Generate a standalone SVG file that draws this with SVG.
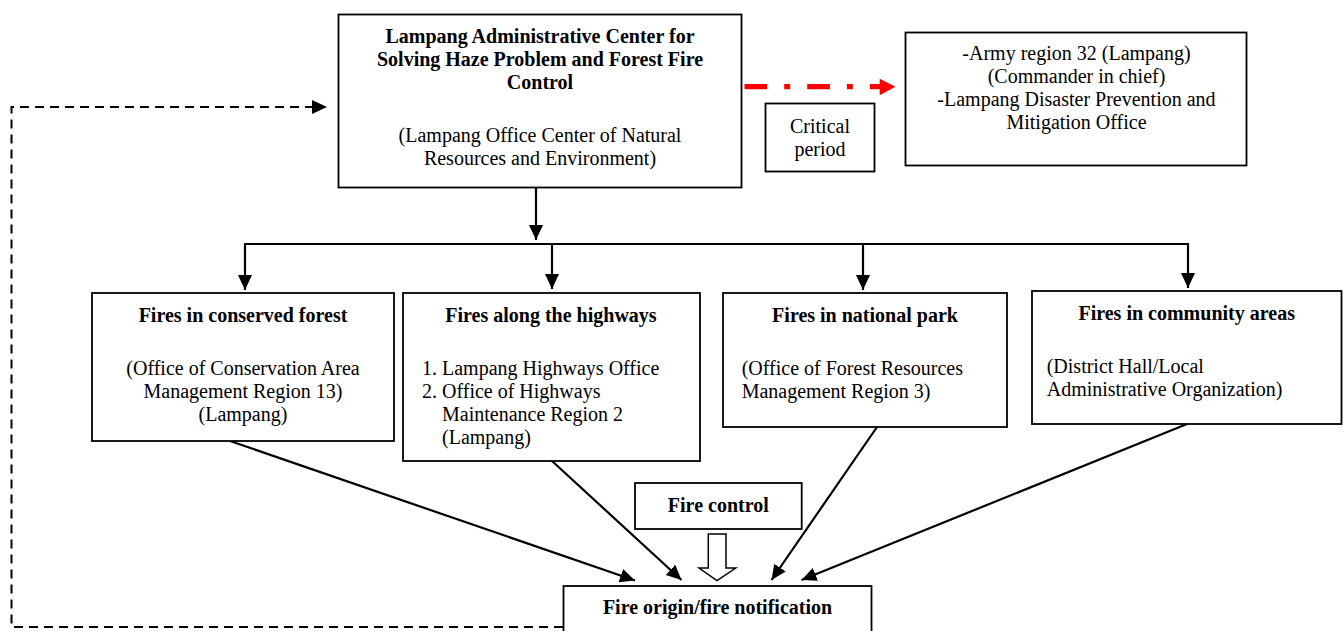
<svg xmlns="http://www.w3.org/2000/svg" width="1343" height="631" viewBox="0 0 1343 631">
<defs>
<marker id="ah" markerUnits="userSpaceOnUse" markerWidth="16" markerHeight="15" refX="15" refY="7" orient="auto">
<path d="M0,0 L15,7 L0,14 z" fill="#000"/>
</marker>
<style>
.box{fill:#fff;stroke:#000;stroke-width:1.8}
.t{font-family:"Liberation Serif","Times New Roman",serif;font-size:20px;fill:#000}
.b{font-weight:bold}
.c{text-anchor:middle}
.ln{stroke:#000;stroke-width:2.2;fill:none}
.dash{stroke:#000;stroke-width:2;fill:none;stroke-dasharray:9 6}
</style>
</defs>
<rect width="1343" height="631" fill="#fff"/>

<g id="connectors">
<line class="ln" x1="536" y1="188" x2="536" y2="240" marker-end="url(#ah)"/>
<line class="ln" x1="244" y1="244" x2="1189" y2="244"/>
<line class="ln" x1="245" y1="244" x2="245" y2="290" marker-end="url(#ah)"/>
<line class="ln" x1="552" y1="244" x2="552" y2="289" marker-end="url(#ah)"/>
<line class="ln" x1="863" y1="244" x2="863" y2="290" marker-end="url(#ah)"/>
<line class="ln" x1="1188" y1="244" x2="1188" y2="288" marker-end="url(#ah)"/>
<line class="ln" x1="230" y1="441" x2="635" y2="580.5" marker-end="url(#ah)"/>
<line class="ln" x1="552" y1="461" x2="681.5" y2="580" marker-end="url(#ah)"/>
<line class="ln" x1="877" y1="427" x2="771.5" y2="580" marker-end="url(#ah)"/>
<line class="ln" x1="1187" y1="424" x2="801.5" y2="580" marker-end="url(#ah)"/>
<polyline class="dash" points="563,627 11.5,627 11.5,107 312,107"/>
<polygon points="312,100 327,107 312,114" fill="#000"/>
<line x1="744.5" y1="86.7" x2="881" y2="86.7" stroke="#ff0000" stroke-width="5.3" stroke-dasharray="22.7 17 6 17"/>
<polygon points="879.7,78.7 895.5,86.7 879.7,95.3" fill="#ff0000"/>
<polygon points="708.3,534 726,534 726,568 735.7,568 717,580.7 699,568 708.3,568" fill="#fff" stroke="#000" stroke-width="1.5"/>
</g>

<g id="main">
<rect class="box" x="338.5" y="14.5" width="403" height="173"/>
<text class="t b c" x="540" y="43">Lampang Administrative Center for</text>
<text class="t b c" x="540" y="66">Solving Haze Problem and Forest Fire</text>
<text class="t b c" x="540" y="89">Control</text>
<text class="t c" x="540" y="142">(Lampang Office Center of Natural</text>
<text class="t c" x="540" y="165">Resources and Environment)</text>
</g>

<g id="critical">
<rect class="box" x="765.5" y="103.5" width="109" height="68"/>
<text class="t c" x="820" y="133">Critical</text>
<text class="t c" x="820" y="156">period</text>
</g>

<g id="army">
<rect class="box" x="905.5" y="32.5" width="341" height="133"/>
<text class="t c" x="1076.5" y="60">-Army region 32 (Lampang)</text>
<text class="t c" x="1076.5" y="83">(Commander in chief)</text>
<text class="t c" x="1076.5" y="106">-Lampang Disaster Prevention and</text>
<text class="t c" x="1076.5" y="129">Mitigation Office</text>
</g>

<g id="conserved">
<rect class="box" x="92" y="293" width="302" height="148"/>
<text class="t b c" x="243" y="322">Fires in conserved forest</text>
<text class="t c" x="243" y="375">(Office of Conservation Area</text>
<text class="t c" x="243" y="398">Management Region 13)</text>
<text class="t c" x="243" y="421">(Lampang)</text>
</g>

<g id="highways">
<rect class="box" x="403" y="293" width="297" height="168"/>
<text class="t b c" x="551" y="322">Fires along the highways</text>
<text class="t" x="422" y="375">1.</text>
<text class="t" x="442" y="375">Lampang Highways Office</text>
<text class="t" x="422" y="398">2.</text>
<text class="t" x="442" y="398">Office of Highways</text>
<text class="t" x="442" y="421">Maintenance Region 2</text>
<text class="t" x="442" y="444">(Lampang)</text>
</g>

<g id="national">
<rect class="box" x="723" y="293" width="284" height="134"/>
<text class="t b c" x="865" y="322">Fires in national park</text>
<text class="t" x="741.7" y="375">(Office of Forest Resources</text>
<text class="t" x="741.7" y="398">Management Region 3)</text>
</g>

<g id="community">
<rect class="box" x="1032" y="291" width="309.5" height="133"/>
<text class="t b c" x="1186.7" y="320">Fires in community areas</text>
<text class="t" x="1046.7" y="373">(District Hall/Local</text>
<text class="t" x="1046.7" y="396">Administrative Organization)</text>
</g>

<g id="firecontrol">
<rect class="box" x="635" y="483" width="166.7" height="46"/>
<text class="t b c" x="718.3" y="511.7">Fire control</text>
</g>

<g id="fireorigin">
<rect class="box" x="563.5" y="586" width="308" height="60"/>
<text class="t b c" x="717.5" y="614">Fire origin/fire notification</text>
</g>
</svg>
